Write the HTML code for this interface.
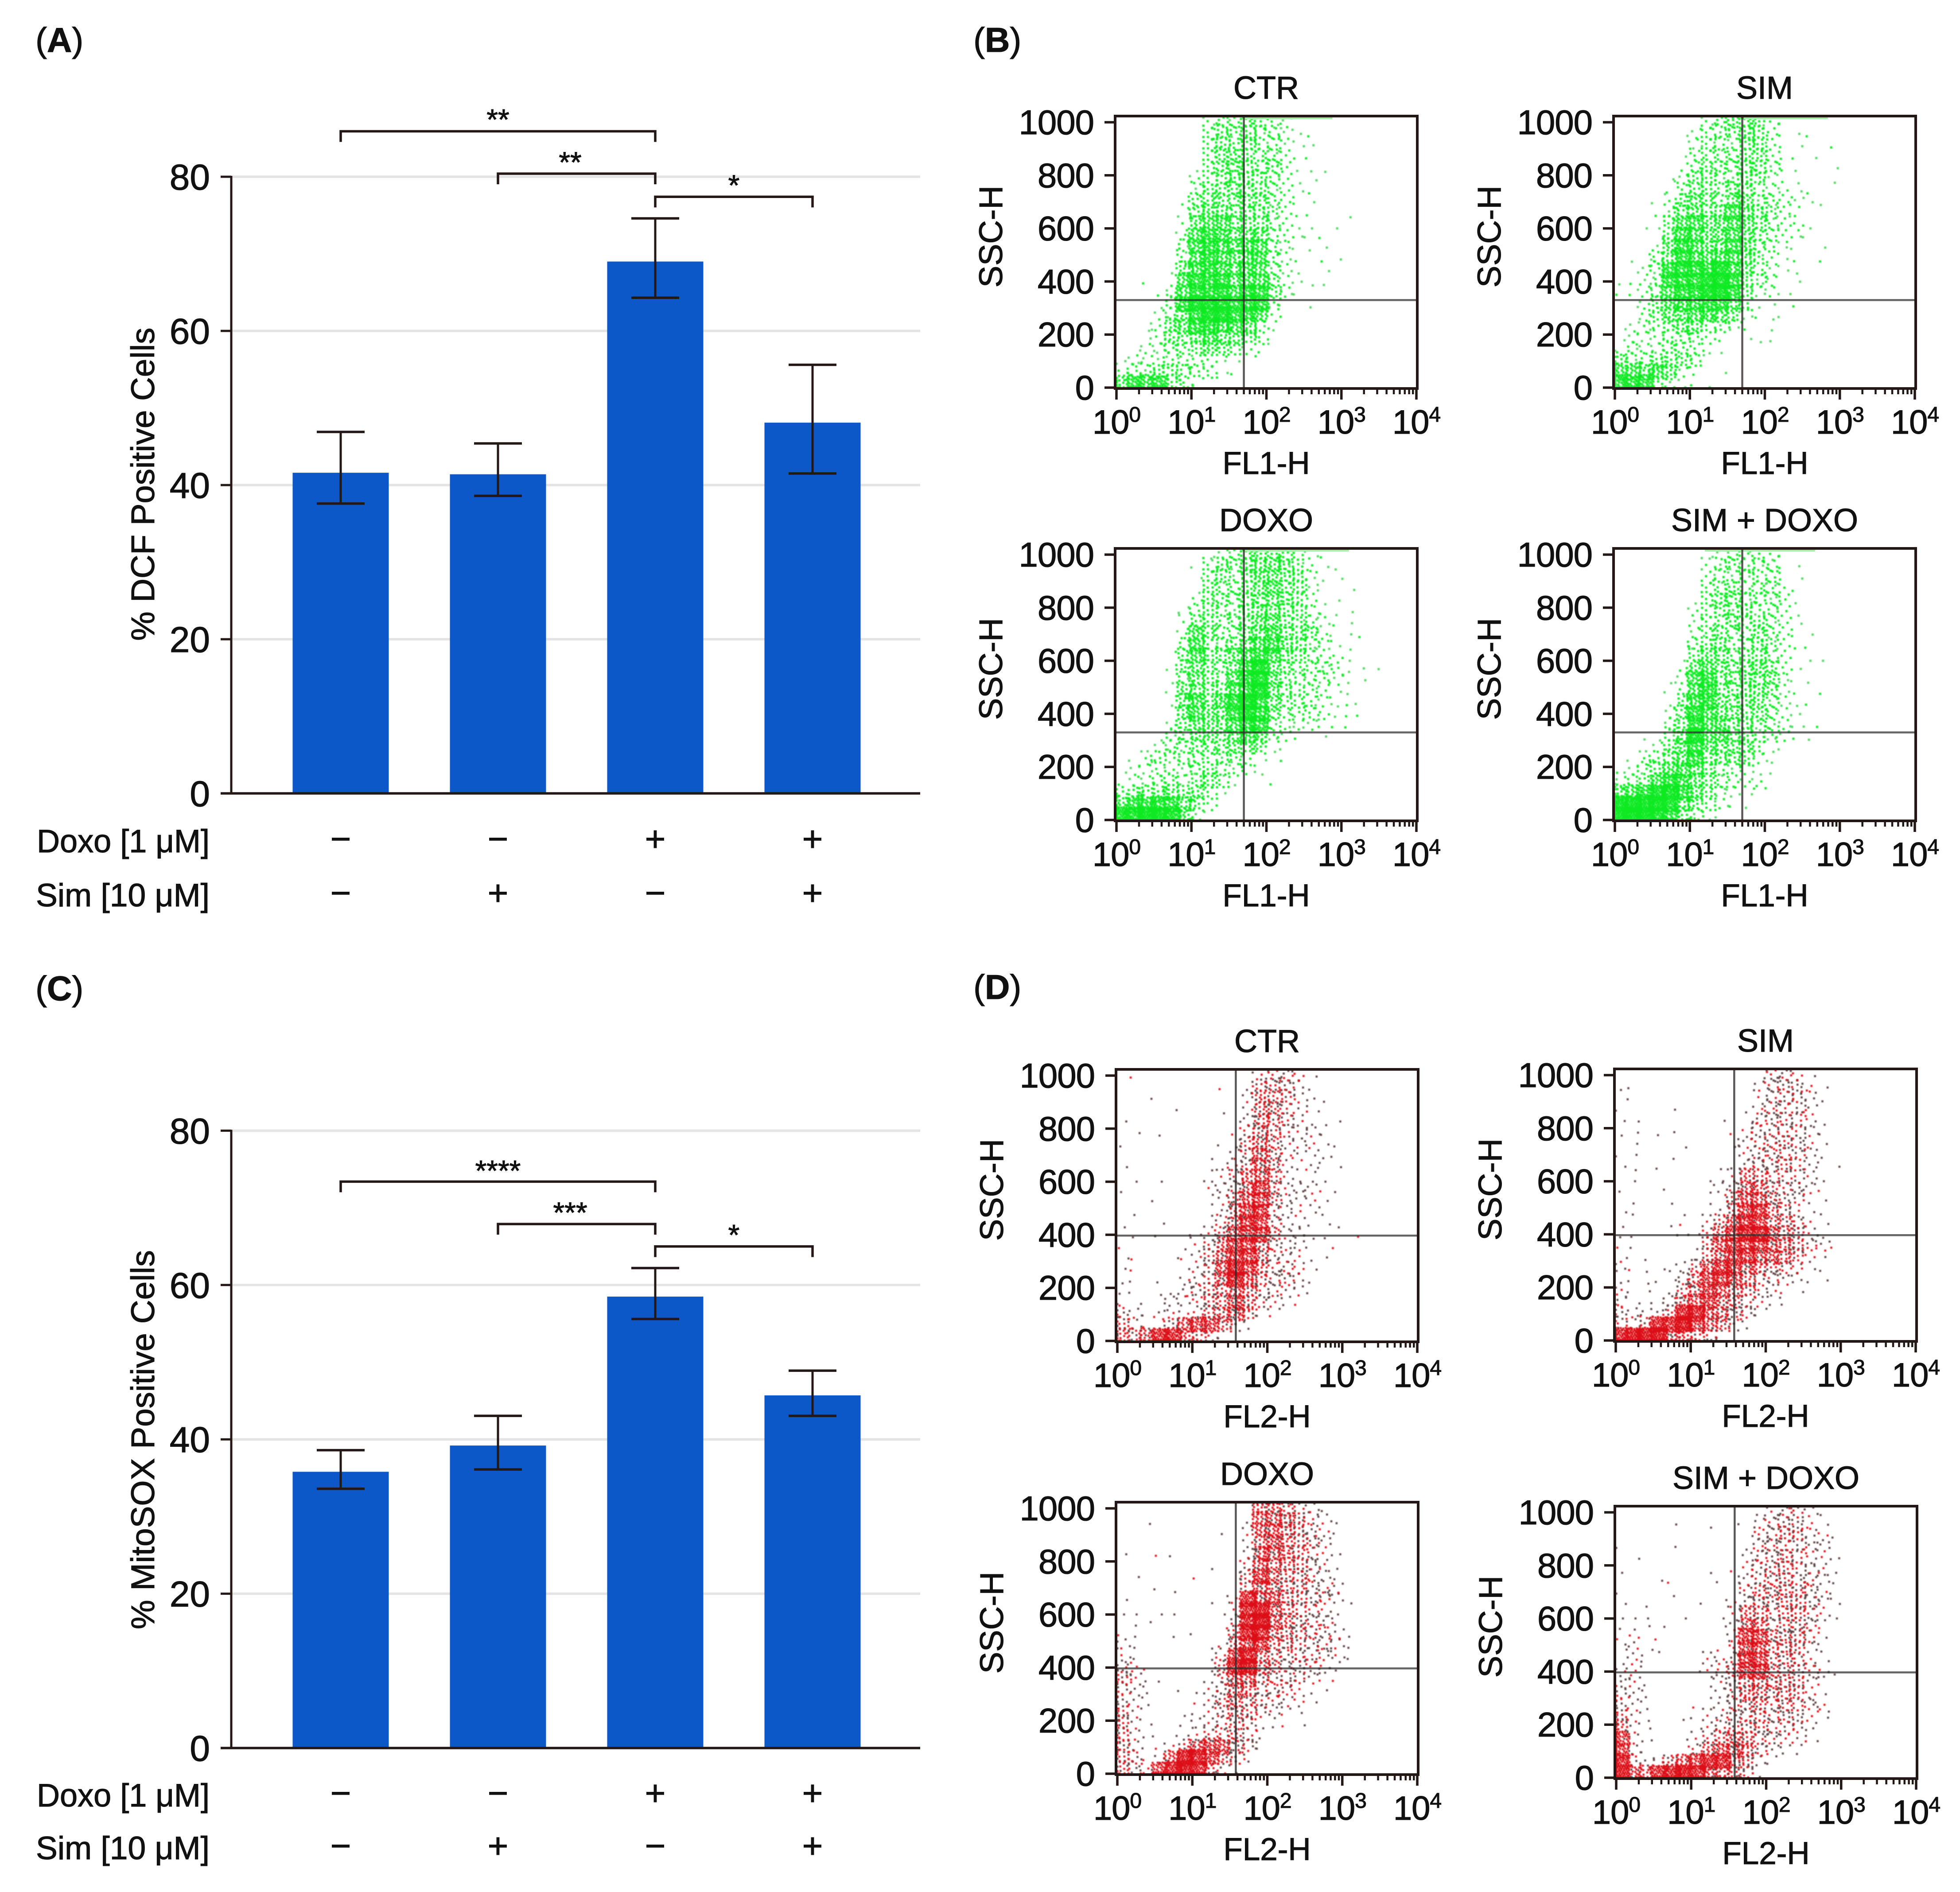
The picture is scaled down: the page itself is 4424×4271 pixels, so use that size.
<!DOCTYPE html>
<html lang="en">
<head>
<meta charset="utf-8">
<title>DCF and MitoSOX positive cells with flow cytometry panels</title>
<style>
html,body{margin:0;padding:0;background:#fff;}
svg{display:block;}
text{font-family:"Liberation Sans",Arial,sans-serif;fill:#111;stroke:#111;stroke-width:1.1px;}
</style>
</head>
<body>
<svg id="figure" xmlns="http://www.w3.org/2000/svg" width="4424" height="4271" viewBox="0 0 4424 4271">
  <defs>
    <filter id="soft" x="-2%" y="-2%" width="104%" height="104%"><feGaussianBlur stdDeviation="1"/></filter>
  </defs>
  <rect width="4424" height="4271" fill="#fff"/>
  <text x="80" y="117" font-size="78">(<tspan font-weight="700">A</tspan>)</text>
  <text x="2197" y="117" font-size="78">(<tspan font-weight="700">B</tspan>)</text>
  <text x="80" y="2258" font-size="78">(<tspan font-weight="700">C</tspan>)</text>
  <text x="2197" y="2255" font-size="78">(<tspan font-weight="700">D</tspan>)</text>
  <g id="chart-a"></g>
  <g id="chart-c"></g>
  <g id="flow-b"></g>
  <g id="flow-d"></g>
</svg>
<script>
// ---------- bar chart data ----------
const treatmentDoxo = ['−', '−', '+', '+'];
const treatmentSim = ['−', '+', '−', '+'];
const yTicks = [0, 20, 40, 60, 80];
const dcfMeans = [41.6, 41.4, 69.0, 48.1];
const dcfErrLow = [37.6, 38.6, 64.3, 41.5];
const dcfErrHigh = [46.9, 45.4, 74.6, 55.6];
const dcfBracketFrom = [0, 1, 2];
const dcfBracketTo = [2, 2, 3];
const dcfBracketLevel = [85.9, 80.4, 77.4];
const dcfBracketStars = ['**', '**', '*'];
const moxMeans = [35.8, 39.2, 58.5, 45.7];
const moxErrLow = [33.6, 36.1, 55.6, 43.05];
const moxErrHigh = [38.6, 43.05, 62.2, 48.9];
const moxBracketFrom = [0, 1, 2];
const moxBracketTo = [2, 2, 3];
const moxBracketLevel = [73.4, 67.9, 65.0];
const moxBracketStars = ['****', '***', '*'];

// ---------- flow cytometry data: local event density per cell (0-9) ----------
const ssxTicks = [0, 200, 400, 600, 800, 1000];
const flExponents = [0, 1, 2, 3, 4];
const flowTitles = ['CTR', 'SIM', 'DOXO', 'SIM + DOXO'];
const gateDcf = [50, 330];
const gateMox = [38, 397];
const saturationBandStart = [1.7, 1.72, 1.7, 1.2];
const saturationBandEnd = [2.88, 2.84, 3.1, 2.67];

const densityDcfCtr = [
"000000023343320000000000","000000034343321100000000","000000034443321100000000","000000034443321100000000",
"000000134443421110000000","000000234444321100000000","000000344444321100000000","000001444444321100000000",
"000001454444321100100000","000002566444321101000000","000002676555321110000000","000003676566321110000000",
"000003676566321011000000","000015676566321010000000","001016777566421110000000","000136777677421000000000",
"000137888777310100000000","000235788776200000000000","001255776653100000000000","001244565543000000000000",
"012233454321000000000000","122233221100000000000000","233443331100000000000000","576743100000000000000000"];
const densityDcfSim = [
"000000023444210000000000","000000233344211100000000","000000233344211001000000","000001333344211010000000",
"000001343344311001000000","000012443344211001000000","000013443443221100000000","000124543553322110000000",
"000134544654321000000000","001146655654322100000000","000146655653321100000000","000257655653311010000000",
"011357666653211010000000","002377778653211000000000","112377788743201000000000","112367788742201000000000",
"002466677531101000000000","002455665421110000000000","022244533210100000000000","022233321011100000000000",
"132233311000000000000000","433444300000000000000000","665652101000000000000000","777321110000000000000000"];
const densityDcfDoxo = [
"000000012344443210000000","000000134345543211000000","000000134345544210100000","000000143345544210100000",
"000000243344544211000000","000001343345544211100000","000002443345544321100000","000002643345644421110000",
"000003633456654321100000","000004644567644322100000","000014543578543332111000","000013543578533232110000",
"000015544678533321100000","000015646787533321110000","000015654787433321110000","000024554677322211100000",
"000133454565321010000000","001233434444110000000000","012333333321010000000000","022222343321000000000000",
"022332443100100000000000","344454431000000000000000","577775420000000000000000","889985200000000000000000"];
const densityDcfBoth = [
"000000012332210000000000","000000023333311000000000","000000023333311000000000","000000033433321000000000",
"000000134433321000000000","000000234343321000000000","000000233434321000000000","000000234334321100000000",
"000001344334321100000000","000001454344320110000000","000001564445421000000000","000012674444421100000000",
"000012674444421010000000","000014674445321100000000","000024765444321000000000","000034765443321110000000",
"001135866443321100000000","001245754443110000000000","012345744442100000000000","123466543321100000000000",
"234676543222000000000000","567887542210000000000000","999985432110000000000000","999874311000000000000000"];
const densityMoxCtr = [
"010000 000002 332100 000000","000000 001014 432100 000000","001000 000025 442110 000000","000010 001025 432110 000000",
"100000 000125 432111 000000","010100 000135 432210 000000","100000 001145 422211 000000","000000 010236 422111 000000",
"100000 011346 421211 000000","010100 012356 421110 000000","100000 022367 422211 000000","001000 012467 422210 000000",
"010000 012577 322110 000000","100100 013577 321111 000000","010101 124677 422110 010000","100001 235775 322101 000000",
"110011 246775 322110 000000","110001 236875 332100 000000","110102 236864 332100 000000","110112 344653 322000 000000",
"110122 344653 211000 000000","321222 245641 100000 000000","421146 775210 000000 000000","546885 421000 000000 000000"];
const densityMoxSim = [
"000000 000000 332100 000000","110000 000002 333210 000000","010000 000002 333210 000000","100010 000012 333200 000000",
"110000 001013 333210 000000","110110 000123 333210 000000","010001 000123 343210 000000","110010 000123 333210 000000",
"110100 001133 343211 000000","010000 011254 332210 000000","100100 012365 433210 000000","010010 011466 433110 000000",
"110001 012477 532110 000000","100011 024677 543210 000000","110011 135788 654210 000000","110000 146777 654321 000000",
"101000 146776 654210 000000","211112 467765 432110 000000","111113 577653 322110 000000","211014 576543 211000 000000",
"211125 675432 110000 000000","322248 865431 000000 000000","324889 765210 000000 000000","899965 431000 000000 000000"];
const densityMoxDoxo = [
"000000 000005 543210 000000","001000 000016 654321 000000","000000 001026 654321 000000","000000 000025 654321 000000",
"100110 000026 654321 000000","000000 010036 554321 000000","010000 100047 544321 000000","000110 000136 544332 000000",
"100000 010286 644332 100000","110110 001289 643321 000000","011000 000389 654331 000000","110011 000488 544332 100000",
"210000 011577 443332 100000","210000 013785 433332 100000","321000 014895 433321 000000","421100 013664 333211 000000",
"321010 123553 332110 000000","321000 124543 322100 000000","420001 123443 211000 000000","421001 223431 111000 000000",
"421011 233431 000000 000000","420124 676431 000000 000000","431269 875310 000000 000000","432789 842100 000000 000000"];
const densityMoxBoth = [
"000000 000001 233210 000000","000010 010102 333210 000000","000000 000013 344221 000000","100010 000013 333221 000000",
"010000 000023 343221 000000","100000 010123 443221 000000","000110 001023 343321 000000","100010 000134 444321 000000",
"101000 100234 344321 000000","111001 001254 344321 000000","111100 001265 344310 000000","120100 000277 444310 000000",
"121100 011376 444210 000000","121000 022377 443210 000000","220000 122477 443321 000000","221000 012355 444210 000000",
"321000 012355 444210 000000","321000 112344 343320 000000","421001 122334 333210 000000","521000 123444 333100 000000",
"721001 234553 322110 000000","721000 356653 211000 000000","832256 788542 100000 000000","965889 865431 000000 000000"];

// ---------- helpers ----------
const NS = 'http://www.w3.org/2000/svg';
const INK = '#231815';
function make(tag, parent, attrs, content) {
  const node = document.createElementNS(NS, tag);
  Object.keys(attrs).forEach(function (k) { node.setAttribute(k, attrs[k]); });
  if (content !== undefined) node.textContent = content;
  parent.appendChild(node);
  return node;
}
function line(parent, x1, y1, x2, y2, color, w) {
  return make('line', parent, {x1: x1, y1: y1, x2: x2, y2: y2, stroke: color, 'stroke-width': w});
}

// ---------- bar charts ----------
function drawBarChart(rootId, opts) {
  const root = document.getElementById(rootId);
  const y0 = opts.y0, unit = opts.unit;
  const xAxis = 522, xEnd = 2077;
  const xCat = function (i) { return 769 + i * 355; };
  const yVal = function (v) { return y0 - v * unit; };

  yTicks.forEach(function (t) {
    const tickGroup = make('g', root, {});
    
    
    if (t > 0) line(tickGroup, xAxis, yVal(t), xEnd, yVal(t), '#e4e4e4', 5.5);
    line(tickGroup, 498, yVal(t), xAxis, yVal(t), INK, 5);
    make('text', tickGroup, {x: 474, y: yVal(t) + 29, 'font-size': 82, 'text-anchor': 'end'}, String(t));
  });

  opts.means.forEach(function (m, i) {
    const bar = make('rect', root, {x: xCat(i) - 108.5, y: yVal(m), width: 217, height: y0 - yVal(m), fill: '#0d58c8'});
    
    
  });

  opts.means.forEach(function (m, i) {
    const err = make('g', root, {});
    
    
    const hi = yVal(opts.high[i]), lo = yVal(opts.low[i]);
    line(err, xCat(i), hi, xCat(i), lo, INK, 5);
    line(err, xCat(i) - 54, hi, xCat(i) + 54, hi, INK, 5.5);
    line(err, xCat(i) - 54, lo, xCat(i) + 54, lo, INK, 5.5);
  });

  const spine = line(root, xAxis, yVal(80) - 2, xAxis, y0 + 2, INK, 5);
  
  
  const base = line(root, 498, y0, xEnd, y0, INK, 5.5);
  
  

  opts.bracketFrom.forEach(function (f, i) {
    const br = make('g', root, {});
    
    
    const by = yVal(opts.bracketLevel[i]);
    const xa = xCat(f), xb = xCat(opts.bracketTo[i]);
    make('path', br, {d: 'M' + xa + ' ' + (by + 24) + 'V' + by + 'H' + xb + 'V' + (by + 24), fill: 'none', stroke: INK, 'stroke-width': 5.5});
    const starX = i === 1 ? 1287 : (xa + xb) / 2;
    make('text', br, {x: starX, y: by + opts.starDy[i], 'font-size': 66, 'text-anchor': 'middle'}, opts.bracketStars[i]);
  });

  const title = make('text', root, {transform: 'translate(' + opts.titleX + ' ' + opts.titleY + ') rotate(-90)', 'font-size': 74, 'text-anchor': 'middle', textLength: opts.titleLen, lengthAdjust: 'spacingAndGlyphs'}, opts.title);
  
  

  const doxoLabel = make('text', root, {x: 473, y: opts.row1, 'font-size': 73, 'text-anchor': 'end', textLength: 390, lengthAdjust: 'spacingAndGlyphs'}, 'Doxo [1 μM]');
  
  
  const simLabel = make('text', root, {x: 473, y: opts.row2, 'font-size': 73, 'text-anchor': 'end', textLength: 392, lengthAdjust: 'spacingAndGlyphs'}, 'Sim [10 μM]');
  
  

  treatmentDoxo.forEach(function (s, i) {
    const mark = make('text', root, {x: xCat(i), y: opts.sign1, 'font-size': 80, 'text-anchor': 'middle'}, s);
    
    
  });
  treatmentSim.forEach(function (s, i) {
    const mark = make('text', root, {x: xCat(i), y: opts.sign2, 'font-size': 80, 'text-anchor': 'middle'}, s);
    
    
  });
}

drawBarChart('chart-a', {
  y0: 1791, unit: 17.4, means: dcfMeans, low: dcfErrLow, high: dcfErrHigh,
  bracketFrom: dcfBracketFrom, bracketTo: dcfBracketTo, bracketLevel: dcfBracketLevel, bracketStars: dcfBracketStars,
  starDy: [-4, -3, -3],
  title: '% DCF Positive Cells', titleX: 348, titleY: 1093, titleLen: 707,
  row1: 1924, row2: 2046, sign1: 1921, sign2: 2043
});
drawBarChart('chart-c', {
  y0: 3946, unit: 17.42, means: moxMeans, low: moxErrLow, high: moxErrHigh,
  bracketFrom: moxBracketFrom, bracketTo: moxBracketTo, bracketLevel: moxBracketLevel, bracketStars: moxBracketStars,
  starDy: [-2, -3, -3],
  title: '% MitoSOX Positive Cells', titleX: 348, titleY: 3250, titleLen: 856,
  row1: 4078, row2: 4197, sign1: 4075, sign2: 4194
});

// ---------- flow panels ----------
const levelCounts = [0, 1, 4, 8, 13, 19, 28, 40, 58, 80];
function drawFlowPanel(rootId, cfg) {
  const root = document.getElementById(rootId);
  const L = cfg.left, T = cfg.top, W = 682, H = 615;
  const panel = make('g', root, {});
  
  
  const xDec = function (d) { return L + 3 + d * 169.25; };
  const xVal = function (v) { return xDec(Math.log10(v)); };
  const yVal = function (v) { return T + H - 2 - v * (H - 16) / 1000; };

  // events, from the density grid: each cell's level sets how many dots are laid out in it
  const cw = W / 24, ch = H / 24, ds = cfg.dotSize;
  let sparse = '', dense = '';
  cfg.density.forEach(function (rowRaw, r) {
    const rowStr = rowRaw.replace(/ /g, '');
    for (let c = 0; c < rowStr.length && c < 24; c++) {
      const level = Number(rowStr[c]);
      const count = levelCounts[level];
      const off = ((c * 7 + r * 13 + c * r * 3) % 17) / 17;
      const spill = level > 1 ? 1.4 : 1;
      for (let k = 0; k < count; k++) {
        const fx = (off + (k + 1) * 0.7548776662) % 1, fy = (off * 0.37 + (k + 1) * 0.5698402910) % 1, fc = ((k + 1) * 0.6180339887 + off) % 1;
        const cx = c + (fx - 0.5) * spill + 0.5, cy = r + (fy - 0.5) * spill + 0.5;
        const px = Math.min(L + W - 5, Math.max(L + 1, L + cx * cw - ds / 2)).toFixed(1);
        const py = Math.min(T + H - 5, Math.max(T + 1, T + cy * ch - ds / 2)).toFixed(1);
        const seg = 'M' + px + ' ' + py + 'h' + ds + 'v' + ds + 'h-' + ds + 'z';
        if (fc < level / cfg.brightAt) dense += seg; else sparse += seg;
      }
    }
  });
  const low = make('path', panel, {d: sparse, fill: cfg.lowColor, filter: 'url(#soft)'});
  
  
  const high = make('path', panel, {d: dense, fill: cfg.highColor, filter: 'url(#soft)'});
  
  

  if (cfg.bandStart !== undefined) {
    const band = make('rect', panel, {x: xDec(cfg.bandStart), y: T + 3, width: xDec(cfg.bandEnd) - xDec(cfg.bandStart), height: 4, fill: '#a5f0a8'});
    
    
  }

  // quadrant gates
  const gv = line(panel, xVal(cfg.gate[0]), T, xVal(cfg.gate[0]), T + H, 'rgba(45,40,40,.78)', 4.5);
  
  
  const gh = line(panel, L, yVal(cfg.gate[1]), L + W, yVal(cfg.gate[1]), 'rgba(45,40,40,.72)', 4.5);
  
  

  const frame = make('rect', panel, {x: L, y: T, width: W, height: H, fill: 'none', stroke: INK, 'stroke-width': 6});
  
  

  // y axis
  ssxTicks.forEach(function (t) {
    line(panel, L - 24, yVal(t), L, yVal(t), INK, 5.5);
    const lab = make('text', panel, {x: L - 48, y: yVal(t) + 27, 'font-size': 78, 'text-anchor': 'end', 'letter-spacing': '-1'}, String(t));
    
    
  });
  // x axis
  flExponents.forEach(function (e, idx) {
    line(panel, xDec(e), T + H, xDec(e), T + H + 25, INK, 5.5);
    if (idx < flExponents.length - 1) {
      for (let m = 2; m < 10; m++) {
        const mx = xDec(e + Math.log10(m));
        line(panel, mx, T + H, mx, T + H + 13, INK, 4.5);
      }
    }
    const lab = make('text', panel, {x: xDec(e), y: T + H + 102, 'font-size': 76, 'text-anchor': 'middle', 'letter-spacing': '-1'});
    
    
    make('tspan', lab, {}, '10');
    make('tspan', lab, {'font-size': 48, dy: -27}, String(e));
  });

  const title = make('text', panel, {x: L + 341, y: T - 39, 'font-size': 72, 'text-anchor': 'middle'}, cfg.title);
  
  
  const xTitle = make('text', panel, {x: L + 341, y: T + H + 193, 'font-size': 71, 'text-anchor': 'middle'}, cfg.xLabel);
  
  
  const yTitle = make('text', panel, {transform: 'translate(' + (L - 255) + ' ' + (T + 272) + ') rotate(-90)', 'font-size': 74, 'text-anchor': 'middle'}, 'SSC-H');
  
  
}

const greenStyle = {lowColor: '#52d862', highColor: '#0cea22', brightAt: 3.5, dotSize: 5};
const redStyle = {lowColor: '#5c4040', highColor: '#dc0d18', brightAt: 7.5, dotSize: 4.5};

[
  {left: 2517, top: 262, density: densityDcfCtr, i: 0},
  {left: 3642, top: 262, density: densityDcfSim, i: 1},
  {left: 2517, top: 1238, density: densityDcfDoxo, i: 2},
  {left: 3642, top: 1238, density: densityDcfBoth, i: 3}
].forEach(function (p) {
  drawFlowPanel('flow-b', {
    left: p.left, top: p.top, density: p.density, gate: gateDcf,
    bandStart: saturationBandStart[p.i], bandEnd: saturationBandEnd[p.i],
    title: flowTitles[p.i], xLabel: 'FL1-H', name: 'dcf-flow-plot-' + p.i,
    lowColor: greenStyle.lowColor, highColor: greenStyle.highColor, brightAt: greenStyle.brightAt, dotSize: greenStyle.dotSize
  });
});
[
  {left: 2519, top: 2414, density: densityMoxCtr, i: 0},
  {left: 3644, top: 2413, density: densityMoxSim, i: 1},
  {left: 2519, top: 3391, density: densityMoxDoxo, i: 2},
  {left: 3645, top: 3400, density: densityMoxBoth, i: 3}
].forEach(function (p) {
  drawFlowPanel('flow-d', {
    left: p.left, top: p.top, density: p.density, gate: gateMox,
    title: flowTitles[p.i], xLabel: 'FL2-H', name: 'mitosox-flow-plot-' + p.i,
    lowColor: redStyle.lowColor, highColor: redStyle.highColor, brightAt: redStyle.brightAt, dotSize: redStyle.dotSize
  });
});
</script>
</body>
</html>
